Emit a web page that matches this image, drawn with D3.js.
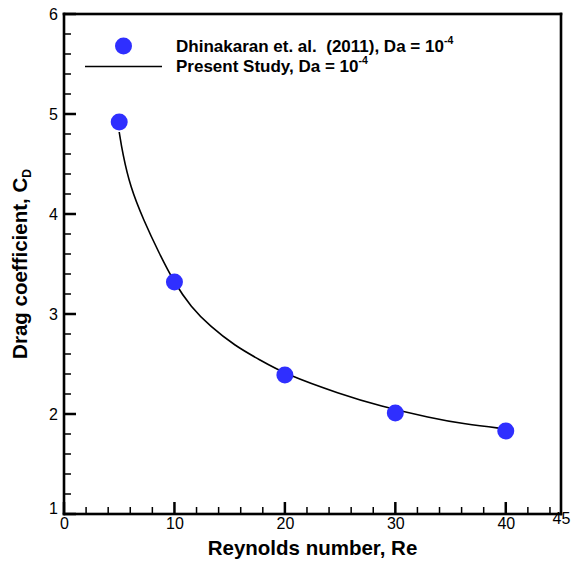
<!DOCTYPE html>
<html><head><meta charset="utf-8">
<script src="https://cdn.jsdelivr.net/npm/d3@7"></script>
<style>
html,body{margin:0;padding:0;background:#fff;}
svg text{font-family:"Liberation Sans",Arial,sans-serif;}
</style></head>
<body>
<svg id="chart" width="580" height="562"></svg>
<script>
// Reference data (Dhinakaran et al. 2011)
const refRe = [5, 10, 20, 30, 40];
const refCd = [4.92, 3.32, 2.39, 2.01, 1.83];
// Present study curve
const curveRe = [5, 5.3, 6, 7.2, 8.6, 10, 11.5, 13.2, 15.5, 17.75, 20, 25, 28.6, 33.2, 36.2, 40];
const curveCd = [4.82, 4.61, 4.27, 3.94, 3.61, 3.31, 3.07, 2.88, 2.68, 2.54, 2.40, 2.20, 2.08, 1.96, 1.90, 1.85];
// Axis ticks
const xMajor = [0, 10, 20, 30, 40, 45];
const xMinor = [2, 4, 6, 8, 12, 14, 16, 18, 22, 24, 26, 28, 32, 34, 36, 38, 42, 44];
const yMajor = [1, 2, 3, 4, 5, 6];
const yMinor = [1.2,1.4,1.6,1.8,2.2,2.4,2.6,2.8,3.2,3.4,3.6,3.8,4.2,4.4,4.6,4.8,5.2,5.4,5.6,5.8];
const legendLabels = ["Dhinakaran et. al.  (2011), Da = 10", "Present Study, Da = 10"];
const legendSup = "-4";

const svg = d3.select("#chart");
const L = 64, R = 561, T = 14, B = 514;
const x = d3.scaleLinear().domain([0, 45]).range([L, R]);
const y = d3.scaleLinear().domain([1, 6]).range([B, T]);
const blue = "#2f2fff";

// tick marks (inward), positioned by the scales, drawn as thin rectangles
const g = svg.append("g");
g.selectAll("rect.xmin").data(xMinor).join("rect").attr("class","xmin")
  .attr("x", d => x(d) - 0.75).attr("width", 1.5).attr("y", B - 7).attr("height", 7).attr("fill", "#000");
g.selectAll("rect.xmaj").data(xMajor.filter(d => d < 45)).join("rect").attr("class","xmaj")
  .attr("x", d => x(d) - 1.25).attr("width", 2.5).attr("y", B - 12).attr("height", 12).attr("fill", "#000");
g.selectAll("rect.ymin").data(yMinor).join("rect").attr("class","ymin")
  .attr("y", d => y(d) - 0.75).attr("height", 1.5).attr("x", L).attr("width", 7).attr("fill", "#000");
g.selectAll("rect.ymaj").data(yMajor).join("rect").attr("class","ymaj")
  .attr("y", d => y(d) - 1.25).attr("height", 2.5).attr("x", L).attr("width", 12).attr("fill", "#000");

// frame (filled band rectangles)
const fw = 2.6;
g.append("rect").attr("x", L - fw/2).attr("y", T - fw/2).attr("width", R - L + fw).attr("height", fw).attr("fill","#000");
g.append("rect").attr("x", L - fw/2).attr("y", B - fw/2).attr("width", R - L + fw).attr("height", fw).attr("fill","#000");
g.append("rect").attr("x", L - fw/2).attr("y", T - fw/2).attr("width", fw).attr("height", B - T + fw).attr("fill","#000");
g.append("rect").attr("x", R - fw/2).attr("y", T - fw/2).attr("width", fw).attr("height", B - T + fw).attr("fill","#000");

// axis labels
const gx = svg.append("g").attr("transform", `translate(0,${B})`)
  .call(d3.axisBottom(x).tickValues(xMajor).tickSize(0).tickPadding(4).tickFormat(d3.format("d")));
const gy = svg.append("g").attr("transform", `translate(${L},0)`)
  .call(d3.axisLeft(y).tickValues(yMajor).tickSize(0).tickPadding(6).tickFormat(d3.format("d")));
[gx, gy].forEach(a => {
  a.select(".domain").remove();
  a.selectAll(".tick line").remove();
  a.selectAll(".tick text").attr("font-size",16).attr("fill","#000")
   .attr("font-family","'Liberation Sans',Arial,sans-serif");
});
gx.selectAll(".tick").filter(d => d === 45).select("text").attr("dy","0.4em");
gy.selectAll(".tick").filter(d => d === 1).select("text").attr("dy","-0.05em");

// curve
const pts = curveRe.map((r, i) => [r, curveCd[i]]);
svg.append("path").datum(pts)
  .attr("d", d3.line().x(d => x(d[0])).y(d => y(d[1])).curve(d3.curveBasis))
  .attr("fill","none").attr("stroke","#000").attr("stroke-width",1.6);

// points
svg.append("g").selectAll("circle").data(refRe.map((r, i) => [r, refCd[i]]))
  .join("circle").attr("cx", d => x(d[0])).attr("cy", d => y(d[1])).attr("r", 8.5).attr("fill", blue);

// legend
svg.append("circle").attr("cx", 123.5).attr("cy", 46).attr("r", 8.5).attr("fill", blue);
svg.append("path").attr("d", "M85,66.5H162").attr("stroke","#000").attr("stroke-width",1.6);
[51.5, 72.3].forEach((yy, i) => {
  const t = svg.append("text").attr("x", 176).attr("y", yy).attr("font-size",17)
    .attr("font-weight","bold").attr("fill","#000").style("white-space","pre");
  t.append("tspan").text(legendLabels[i]);
  t.append("tspan").attr("font-size",10.5).attr("dy",-8).text(legendSup);
});

// axis titles
svg.append("text").attr("x", (L + R) / 2).attr("y", 555).attr("text-anchor","middle")
  .attr("font-size",20.5).attr("font-weight","bold").text("Reynolds number, Re");
const yt = svg.append("text").attr("transform", `translate(27,${(T + B) / 2}) rotate(-90)`)
  .attr("text-anchor","middle").attr("font-size",20.5).attr("font-weight","bold");
yt.append("tspan").text("Drag coefficient, C");
yt.append("tspan").attr("font-size",12).attr("dy",4).text("D");
</script>
</body></html>
